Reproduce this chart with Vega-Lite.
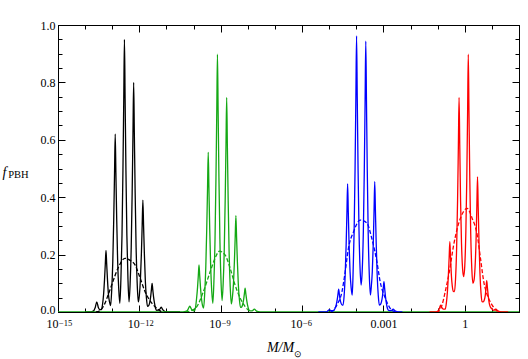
{
  "$schema": "https://vega.github.io/schema/vega-lite/v6.json",
  "autosize": {"type": "none"},
  "width": 461,
  "height": 287,
  "padding": {"left": 58, "top": 25, "right": 9, "bottom": 47},
  "background": "white",
  "config": {
    "view": {"stroke": "black", "strokeWidth": 1},
    "font": "Liberation Serif",
    "axis": {"labelFont": "Liberation Serif", "titleFont": "Liberation Serif", "labelColor": "black", "titleColor": "black", "domainColor": "black", "tickColor": "black", "grid": false, "labelFontSize": 12, "titleFontSize": 12, "titleFontWeight": "normal"}
  },
  "datasets": {
    "solid": [
      {"g":"black","x":-14,"f":0},{"g":"black","x":-13.8,"f":0},{"g":"black","x":-13.7,"f":0.003},{"g":"black","x":-13.63,"f":0.015},{"g":"black","x":-13.57,"f":0.035},{"g":"black","x":-13.51,"f":0.015},{"g":"black","x":-13.45,"f":0.008},{"g":"black","x":-13.4,"f":0.008},
      {"g":"black","x":-13.36,"f":0.025},{"g":"black","x":-13.32,"f":0.06},{"g":"black","x":-13.285,"f":0.112},{"g":"black","x":-13.255,"f":0.168},{"g":"black","x":-13.23,"f":0.215},{"g":"black","x":-13.205,"f":0.168},{"g":"black","x":-13.175,"f":0.112},{"g":"black","x":-13.14,"f":0.062},{"g":"black","x":-13.1,"f":0.035},{"g":"black","x":-13.06,"f":0.022},
      {"g":"black","x":-13.02,"f":0.075},{"g":"black","x":-12.98,"f":0.174},{"g":"black","x":-12.945,"f":0.322},{"g":"black","x":-12.915,"f":0.484},{"g":"black","x":-12.89,"f":0.62},{"g":"black","x":-12.865,"f":0.484},{"g":"black","x":-12.835,"f":0.322},{"g":"black","x":-12.8,"f":0.176},{"g":"black","x":-12.76,"f":0.08},{"g":"black","x":-12.72,"f":0.03},
      {"g":"black","x":-12.68,"f":0.115},{"g":"black","x":-12.64,"f":0.267},{"g":"black","x":-12.605,"f":0.494},{"g":"black","x":-12.575,"f":0.741},{"g":"black","x":-12.55,"f":0.95},{"g":"black","x":-12.525,"f":0.741},{"g":"black","x":-12.495,"f":0.494},{"g":"black","x":-12.46,"f":0.267},{"g":"black","x":-12.42,"f":0.115},{"g":"black","x":-12.38,"f":0.035},
      {"g":"black","x":-12.34,"f":0.1},{"g":"black","x":-12.3,"f":0.226},{"g":"black","x":-12.265,"f":0.416},{"g":"black","x":-12.235,"f":0.624},{"g":"black","x":-12.21,"f":0.8},{"g":"black","x":-12.185,"f":0.624},{"g":"black","x":-12.155,"f":0.416},{"g":"black","x":-12.12,"f":0.226},{"g":"black","x":-12.08,"f":0.1},{"g":"black","x":-12.04,"f":0.035},
      {"g":"black","x":-12,"f":0.058},{"g":"black","x":-11.96,"f":0.115},{"g":"black","x":-11.925,"f":0.203},{"g":"black","x":-11.895,"f":0.304},{"g":"black","x":-11.87,"f":0.39},{"g":"black","x":-11.845,"f":0.304},{"g":"black","x":-11.815,"f":0.203},{"g":"black","x":-11.78,"f":0.11},{"g":"black","x":-11.74,"f":0.05},{"g":"black","x":-11.7,"f":0.02},
      {"g":"black","x":-11.66,"f":0.022},{"g":"black","x":-11.62,"f":0.032},{"g":"black","x":-11.585,"f":0.052},{"g":"black","x":-11.555,"f":0.078},{"g":"black","x":-11.53,"f":0.1},{"g":"black","x":-11.505,"f":0.078},{"g":"black","x":-11.475,"f":0.052},{"g":"black","x":-11.44,"f":0.03},{"g":"black","x":-11.4,"f":0.012},{"g":"black","x":-11.36,"f":0.006},
      {"g":"black","x":-11.27,"f":0.008},{"g":"black","x":-11.23,"f":0.012},{"g":"black","x":-11.19,"f":0.017},{"g":"black","x":-11.15,"f":0.01},{"g":"black","x":-11.1,"f":0.004},{"g":"black","x":-11,"f":0},{"g":"black","x":-10.5,"f":0},

      {"g":"green","x":-15,"f":0},{"g":"green","x":-10.4,"f":0},{"g":"green","x":-10.26,"f":0.003},{"g":"green","x":-10.2,"f":0.01},{"g":"green","x":-10.14,"f":0.02},{"g":"green","x":-10.08,"f":0.01},{"g":"green","x":-10.02,"f":0.005},{"g":"green","x":-9.97,"f":0.004},
      {"g":"green","x":-9.93,"f":0.015},{"g":"green","x":-9.89,"f":0.047},{"g":"green","x":-9.855,"f":0.085},{"g":"green","x":-9.825,"f":0.128},{"g":"green","x":-9.8,"f":0.164},{"g":"green","x":-9.775,"f":0.128},{"g":"green","x":-9.745,"f":0.085},{"g":"green","x":-9.71,"f":0.048},{"g":"green","x":-9.67,"f":0.022},{"g":"green","x":-9.63,"f":0.014},
      {"g":"green","x":-9.59,"f":0.065},{"g":"green","x":-9.55,"f":0.157},{"g":"green","x":-9.515,"f":0.289},{"g":"green","x":-9.485,"f":0.434},{"g":"green","x":-9.46,"f":0.556},{"g":"green","x":-9.435,"f":0.434},{"g":"green","x":-9.405,"f":0.289},{"g":"green","x":-9.37,"f":0.16},{"g":"green","x":-9.33,"f":0.072},{"g":"green","x":-9.29,"f":0.03},
      {"g":"green","x":-9.25,"f":0.108},{"g":"green","x":-9.21,"f":0.252},{"g":"green","x":-9.175,"f":0.467},{"g":"green","x":-9.145,"f":0.7},{"g":"green","x":-9.12,"f":0.898},{"g":"green","x":-9.095,"f":0.7},{"g":"green","x":-9.065,"f":0.467},{"g":"green","x":-9.03,"f":0.254},{"g":"green","x":-8.99,"f":0.112},{"g":"green","x":-8.95,"f":0.04},
      {"g":"green","x":-8.91,"f":0.098},{"g":"green","x":-8.87,"f":0.212},{"g":"green","x":-8.835,"f":0.389},{"g":"green","x":-8.805,"f":0.583},{"g":"green","x":-8.78,"f":0.748},{"g":"green","x":-8.755,"f":0.583},{"g":"green","x":-8.725,"f":0.389},{"g":"green","x":-8.69,"f":0.21},{"g":"green","x":-8.65,"f":0.09},{"g":"green","x":-8.61,"f":0.028},
      {"g":"green","x":-8.57,"f":0.05},{"g":"green","x":-8.53,"f":0.098},{"g":"green","x":-8.495,"f":0.175},{"g":"green","x":-8.465,"f":0.262},{"g":"green","x":-8.44,"f":0.336},{"g":"green","x":-8.415,"f":0.262},{"g":"green","x":-8.385,"f":0.175},{"g":"green","x":-8.35,"f":0.096},{"g":"green","x":-8.31,"f":0.043},{"g":"green","x":-8.27,"f":0.016},
      {"g":"green","x":-8.23,"f":0.017},{"g":"green","x":-8.19,"f":0.026},{"g":"green","x":-8.155,"f":0.043},{"g":"green","x":-8.125,"f":0.065},{"g":"green","x":-8.1,"f":0.083},{"g":"green","x":-8.075,"f":0.065},{"g":"green","x":-8.045,"f":0.043},{"g":"green","x":-8.01,"f":0.024},{"g":"green","x":-7.97,"f":0.01},{"g":"green","x":-7.93,"f":0.004},
      {"g":"green","x":-7.84,"f":0.004},{"g":"green","x":-7.76,"f":0.01},{"g":"green","x":-7.68,"f":0.003},{"g":"green","x":-7.55,"f":0},{"g":"green","x":2,"f":0},

      {"g":"blue","x":-5.4,"f":0},{"g":"blue","x":-5.1,"f":0},{"g":"blue","x":-5.05,"f":0.004},{"g":"blue","x":-4.99,"f":0.008},{"g":"blue","x":-4.93,"f":0.005},{"g":"blue","x":-4.87,"f":0.005},{"g":"blue","x":-4.82,"f":0.006},
      {"g":"blue","x":-4.78,"f":0.014},{"g":"blue","x":-4.74,"f":0.025},{"g":"blue","x":-4.705,"f":0.042},{"g":"blue","x":-4.675,"f":0.062},{"g":"blue","x":-4.65,"f":0.08},{"g":"blue","x":-4.625,"f":0.062},{"g":"blue","x":-4.595,"f":0.042},{"g":"blue","x":-4.56,"f":0.03},{"g":"blue","x":-4.52,"f":0.024},{"g":"blue","x":-4.49,"f":0.024},
      {"g":"blue","x":-4.45,"f":0.055},{"g":"blue","x":-4.41,"f":0.128},{"g":"blue","x":-4.375,"f":0.232},{"g":"blue","x":-4.345,"f":0.348},{"g":"blue","x":-4.32,"f":0.446},{"g":"blue","x":-4.295,"f":0.348},{"g":"blue","x":-4.265,"f":0.232},{"g":"blue","x":-4.23,"f":0.14},{"g":"blue","x":-4.19,"f":0.085},{"g":"blue","x":-4.15,"f":0.059},
      {"g":"blue","x":-4.12,"f":0.13},{"g":"blue","x":-4.08,"f":0.28},{"g":"blue","x":-4.045,"f":0.5},{"g":"blue","x":-4.015,"f":0.75},{"g":"blue","x":-3.99,"f":0.962},{"g":"blue","x":-3.965,"f":0.75},{"g":"blue","x":-3.935,"f":0.5},{"g":"blue","x":-3.9,"f":0.285},{"g":"blue","x":-3.86,"f":0.15},{"g":"blue","x":-3.82,"f":0.094},
      {"g":"blue","x":-3.78,"f":0.148},{"g":"blue","x":-3.74,"f":0.28},{"g":"blue","x":-3.705,"f":0.491},{"g":"blue","x":-3.675,"f":0.736},{"g":"blue","x":-3.65,"f":0.944},{"g":"blue","x":-3.625,"f":0.736},{"g":"blue","x":-3.595,"f":0.491},{"g":"blue","x":-3.56,"f":0.27},{"g":"blue","x":-3.52,"f":0.128},{"g":"blue","x":-3.48,"f":0.059},
      {"g":"blue","x":-3.45,"f":0.085},{"g":"blue","x":-3.41,"f":0.14},{"g":"blue","x":-3.375,"f":0.236},{"g":"blue","x":-3.345,"f":0.354},{"g":"blue","x":-3.32,"f":0.454},{"g":"blue","x":-3.295,"f":0.354},{"g":"blue","x":-3.265,"f":0.236},{"g":"blue","x":-3.23,"f":0.13},{"g":"blue","x":-3.19,"f":0.058},{"g":"blue","x":-3.15,"f":0.024},
      {"g":"blue","x":-3.11,"f":0.026},{"g":"blue","x":-3.07,"f":0.036},{"g":"blue","x":-3.035,"f":0.055},{"g":"blue","x":-3.005,"f":0.083},{"g":"blue","x":-2.98,"f":0.106},{"g":"blue","x":-2.955,"f":0.083},{"g":"blue","x":-2.925,"f":0.055},{"g":"blue","x":-2.89,"f":0.03},{"g":"blue","x":-2.85,"f":0.012},{"g":"blue","x":-2.81,"f":0.006},
      {"g":"blue","x":-2.72,"f":0.005},{"g":"blue","x":-2.64,"f":0.01},{"g":"blue","x":-2.57,"f":0.004},{"g":"blue","x":-2.45,"f":0},{"g":"blue","x":-2.3,"f":0},

      {"g":"red","x":-1.3,"f":0},{"g":"red","x":-1.05,"f":0},{"g":"red","x":-0.97,"f":0.006},{"g":"red","x":-0.93,"f":0.014},{"g":"red","x":-0.89,"f":0.024},{"g":"red","x":-0.85,"f":0.016},{"g":"red","x":-0.79,"f":0.01},{"g":"red","x":-0.72,"f":0.01},
      {"g":"red","x":-0.68,"f":0.03},{"g":"red","x":-0.64,"f":0.07},{"g":"red","x":-0.605,"f":0.127},{"g":"red","x":-0.575,"f":0.191},{"g":"red","x":-0.55,"f":0.245},{"g":"red","x":-0.525,"f":0.191},{"g":"red","x":-0.495,"f":0.13},{"g":"red","x":-0.46,"f":0.09},{"g":"red","x":-0.42,"f":0.072},{"g":"red","x":-0.38,"f":0.071},
      {"g":"red","x":-0.34,"f":0.115},{"g":"red","x":-0.3,"f":0.223},{"g":"red","x":-0.265,"f":0.389},{"g":"red","x":-0.235,"f":0.583},{"g":"red","x":-0.21,"f":0.748},{"g":"red","x":-0.185,"f":0.583},{"g":"red","x":-0.155,"f":0.389},{"g":"red","x":-0.12,"f":0.239},{"g":"red","x":-0.08,"f":0.15},{"g":"red","x":-0.04,"f":0.123},
      {"g":"red","x":0,"f":0.16},{"g":"red","x":0.04,"f":0.279},{"g":"red","x":0.075,"f":0.467},{"g":"red","x":0.105,"f":0.7},{"g":"red","x":0.13,"f":0.898},{"g":"red","x":0.155,"f":0.7},{"g":"red","x":0.185,"f":0.467},{"g":"red","x":0.22,"f":0.272},{"g":"red","x":0.26,"f":0.15},{"g":"red","x":0.3,"f":0.1},
      {"g":"red","x":0.34,"f":0.11},{"g":"red","x":0.38,"f":0.157},{"g":"red","x":0.415,"f":0.245},{"g":"red","x":0.445,"f":0.367},{"g":"red","x":0.47,"f":0.471},{"g":"red","x":0.495,"f":0.367},{"g":"red","x":0.525,"f":0.245},{"g":"red","x":0.56,"f":0.135},{"g":"red","x":0.6,"f":0.065},{"g":"red","x":0.64,"f":0.036},
      {"g":"red","x":0.68,"f":0.035},{"g":"red","x":0.72,"f":0.042},{"g":"red","x":0.755,"f":0.057},{"g":"red","x":0.785,"f":0.085},{"g":"red","x":0.81,"f":0.109},{"g":"red","x":0.835,"f":0.085},{"g":"red","x":0.865,"f":0.057},{"g":"red","x":0.9,"f":0.032},{"g":"red","x":0.94,"f":0.018},{"g":"red","x":0.98,"f":0.013},
      {"g":"red","x":1.07,"f":0.006},{"g":"red","x":1.15,"f":0.01},{"g":"red","x":1.22,"f":0.004},{"g":"red","x":1.35,"f":0},{"g":"red","x":1.6,"f":0}
    ],
    "dashed": [
      {"g":"black","x":-13.6,"f":0},{"g":"black","x":-13.45,"f":0.005},{"g":"black","x":-13.27,"f":0.03},{"g":"black","x":-13.15,"f":0.06},{"g":"black","x":-13.02,"f":0.094},{"g":"black","x":-12.79,"f":0.152},{"g":"black","x":-12.53,"f":0.187},{"g":"black","x":-12.34,"f":0.18},{"g":"black","x":-12.16,"f":0.164},{"g":"black","x":-11.97,"f":0.118},{"g":"black","x":-11.79,"f":0.071},{"g":"black","x":-11.54,"f":0.031},{"g":"black","x":-11.36,"f":0.013},{"g":"black","x":-11.17,"f":0},
      {"g":"green","x":-10.3,"f":0},{"g":"green","x":-10.13,"f":0.003},{"g":"green","x":-9.88,"f":0.019},{"g":"green","x":-9.64,"f":0.071},{"g":"green","x":-9.39,"f":0.14},{"g":"green","x":-9.21,"f":0.187},{"g":"green","x":-9.05,"f":0.212},{"g":"green","x":-8.84,"f":0.199},{"g":"green","x":-8.65,"f":0.152},{"g":"green","x":-8.47,"f":0.094},{"g":"green","x":-8.28,"f":0.048},{"g":"green","x":-8.1,"f":0.019},{"g":"green","x":-7.91,"f":0},
      {"g":"blue","x":-4.95,"f":0},{"g":"blue","x":-4.85,"f":0.005},{"g":"blue","x":-4.72,"f":0.024},{"g":"blue","x":-4.53,"f":0.07},{"g":"blue","x":-4.41,"f":0.14},{"g":"blue","x":-4.29,"f":0.222},{"g":"blue","x":-4.1,"f":0.28},{"g":"blue","x":-3.86,"f":0.32},{"g":"blue","x":-3.61,"f":0.31},{"g":"blue","x":-3.43,"f":0.257},{"g":"blue","x":-3.24,"f":0.175},{"g":"blue","x":-3.12,"f":0.106},{"g":"blue","x":-2.93,"f":0.048},{"g":"blue","x":-2.75,"f":0.013},{"g":"blue","x":-2.56,"f":0},
      {"g":"red","x":-1.05,"f":0},{"g":"red","x":-0.96,"f":0.003},{"g":"red","x":-0.84,"f":0.024},{"g":"red","x":-0.72,"f":0.071},{"g":"red","x":-0.57,"f":0.14},{"g":"red","x":-0.41,"f":0.233},{"g":"red","x":-0.28,"f":0.29},{"g":"red","x":-0.16,"f":0.327},{"g":"red","x":0.09,"f":0.361},{"g":"red","x":0.27,"f":0.327},{"g":"red","x":0.46,"f":0.268},{"g":"red","x":0.58,"f":0.187},{"g":"red","x":0.7,"f":0.106},{"g":"red","x":0.83,"f":0.059},{"g":"red","x":1.01,"f":0.024},{"g":"red","x":1.14,"f":0.007},{"g":"red","x":1.26,"f":0}
    ]
  },
  "resolve": {"axis": {"x": "independent", "y": "independent"}},
  "layer": [
    {
      "data": {"name": "solid"},
      "mark": {"type": "line", "strokeWidth": 1.3, "interpolate": "monotone", "clip": true},
      "encoding": {
        "x": {"field": "x", "type": "quantitative", "scale": {"domain": [-15, 2], "nice": false, "zero": false},
          "axis": {"orient": "bottom", "title": "M/M", "titleFontStyle": "italic", "titleFontSize": 14, "titleX": 222, "titleY": 39, "titleAlign": "center", "titleBaseline": "alphabetic",
            "values": [-15,-14,-13,-12,-11,-10,-9,-8,-7,-6,-5,-4,-3,-2,-1,0,1,2],
            "labelExpr": "(datum.value == -15 || datum.value == -12 || datum.value == -9 || datum.value == -6) ? '10' : datum.value == -3 ? '0.001' : datum.value == 0 ? '1' : ''",
            "labelAlign": {"condition": {"test": "datum.value % 3 == 0 && datum.value < -4", "value": "right"}, "value": "center"},
            "labelOverlap": false, "labelFlush": false, "labelPadding": 13,
            "tickSize": {"condition": {"test": "datum.value % 3 == 0", "value": -7}, "value": -4}}},
        "y": {"field": "f", "type": "quantitative", "scale": {"domain": [0, 1], "nice": false},
          "axis": {"orient": "left", "title": "f", "titleFontStyle": "italic", "titleFontSize": 14, "titleAngle": 0, "titleX": -54, "titleY": 147, "titleAlign": "center", "titleBaseline": "middle",
            "values": [0,0.05,0.1,0.15,0.2,0.25,0.3,0.35,0.4,0.45,0.5,0.55,0.6,0.65,0.7,0.75,0.8,0.85,0.9,0.95,1],
            "labelExpr": "abs(datum.value*5 - round(datum.value*5)) < 0.001 ? format(datum.value, '.1f') : ''",
            "labelOffset": {"condition": {"test": "datum.value == 0", "value": -3}, "value": 0},
            "labelOverlap": false, "labelFlush": false, "labelPadding": 10,
            "tickSize": {"condition": {"test": "abs(datum.value*5 - round(datum.value*5)) < 0.001", "value": -7}, "value": -4}}},
        "color": {"field": "g", "type": "nominal", "scale": {"domain": ["green", "black", "blue", "red"], "range": ["#14a814", "#000000", "#0000ff", "#ff0000"]}, "legend": null}
      }
    },
    {
      "data": {"name": "dashed"},
      "mark": {"type": "line", "strokeWidth": 1.3, "interpolate": "monotone", "strokeDash": [4, 2], "clip": true},
      "encoding": {
        "x": {"field": "x", "type": "quantitative",
          "axis": {"orient": "top", "title": null, "labels": false,
            "values": [-15,-14,-13,-12,-11,-10,-9,-8,-7,-6,-5,-4,-3,-2,-1,0,1,2],
            "tickSize": {"condition": {"test": "datum.value % 3 == 0", "value": -7}, "value": -4}}},
        "y": {"field": "f", "type": "quantitative",
          "axis": {"orient": "right", "title": null, "labels": false,
            "values": [0,0.05,0.1,0.15,0.2,0.25,0.3,0.35,0.4,0.45,0.5,0.55,0.6,0.65,0.7,0.75,0.8,0.85,0.9,0.95,1],
            "tickSize": {"condition": {"test": "abs(datum.value*5 - round(datum.value*5)) < 0.001", "value": -7}, "value": -4}}},
        "color": {"field": "g", "type": "nominal", "legend": null}
      }
    },
    {
      "data": {"name": "dashed"},
      "mark": {"type": "line", "strokeOpacity": 0, "clip": true},
      "encoding": {
        "x": {"field": "x", "type": "quantitative",
          "axis": {"orient": "bottom", "title": "⊙", "titleFontSize": 9, "titleX": 239, "titleY": 41, "titleAlign": "center", "titleBaseline": "middle",
            "domain": false, "ticks": false,
            "values": [-15,-12,-9,-6],
            "labelExpr": "'−' + format(-datum.value, 'd')",
            "labelAlign": "left", "labelFontSize": 8.5, "labelOffset": 0.5, "labelPadding": 6,
            "labelOverlap": false, "labelFlush": false}},
        "y": {"field": "f", "type": "quantitative",
          "axis": {"orient": "left", "title": "PBH", "titleFontSize": 10.5, "titleAngle": 0, "titleX": -40, "titleY": 149, "titleAlign": "center", "titleBaseline": "middle",
            "domain": false, "ticks": false, "labels": false}},
        "color": {"field": "g", "type": "nominal", "legend": null}
      }
    }
  ]
}
